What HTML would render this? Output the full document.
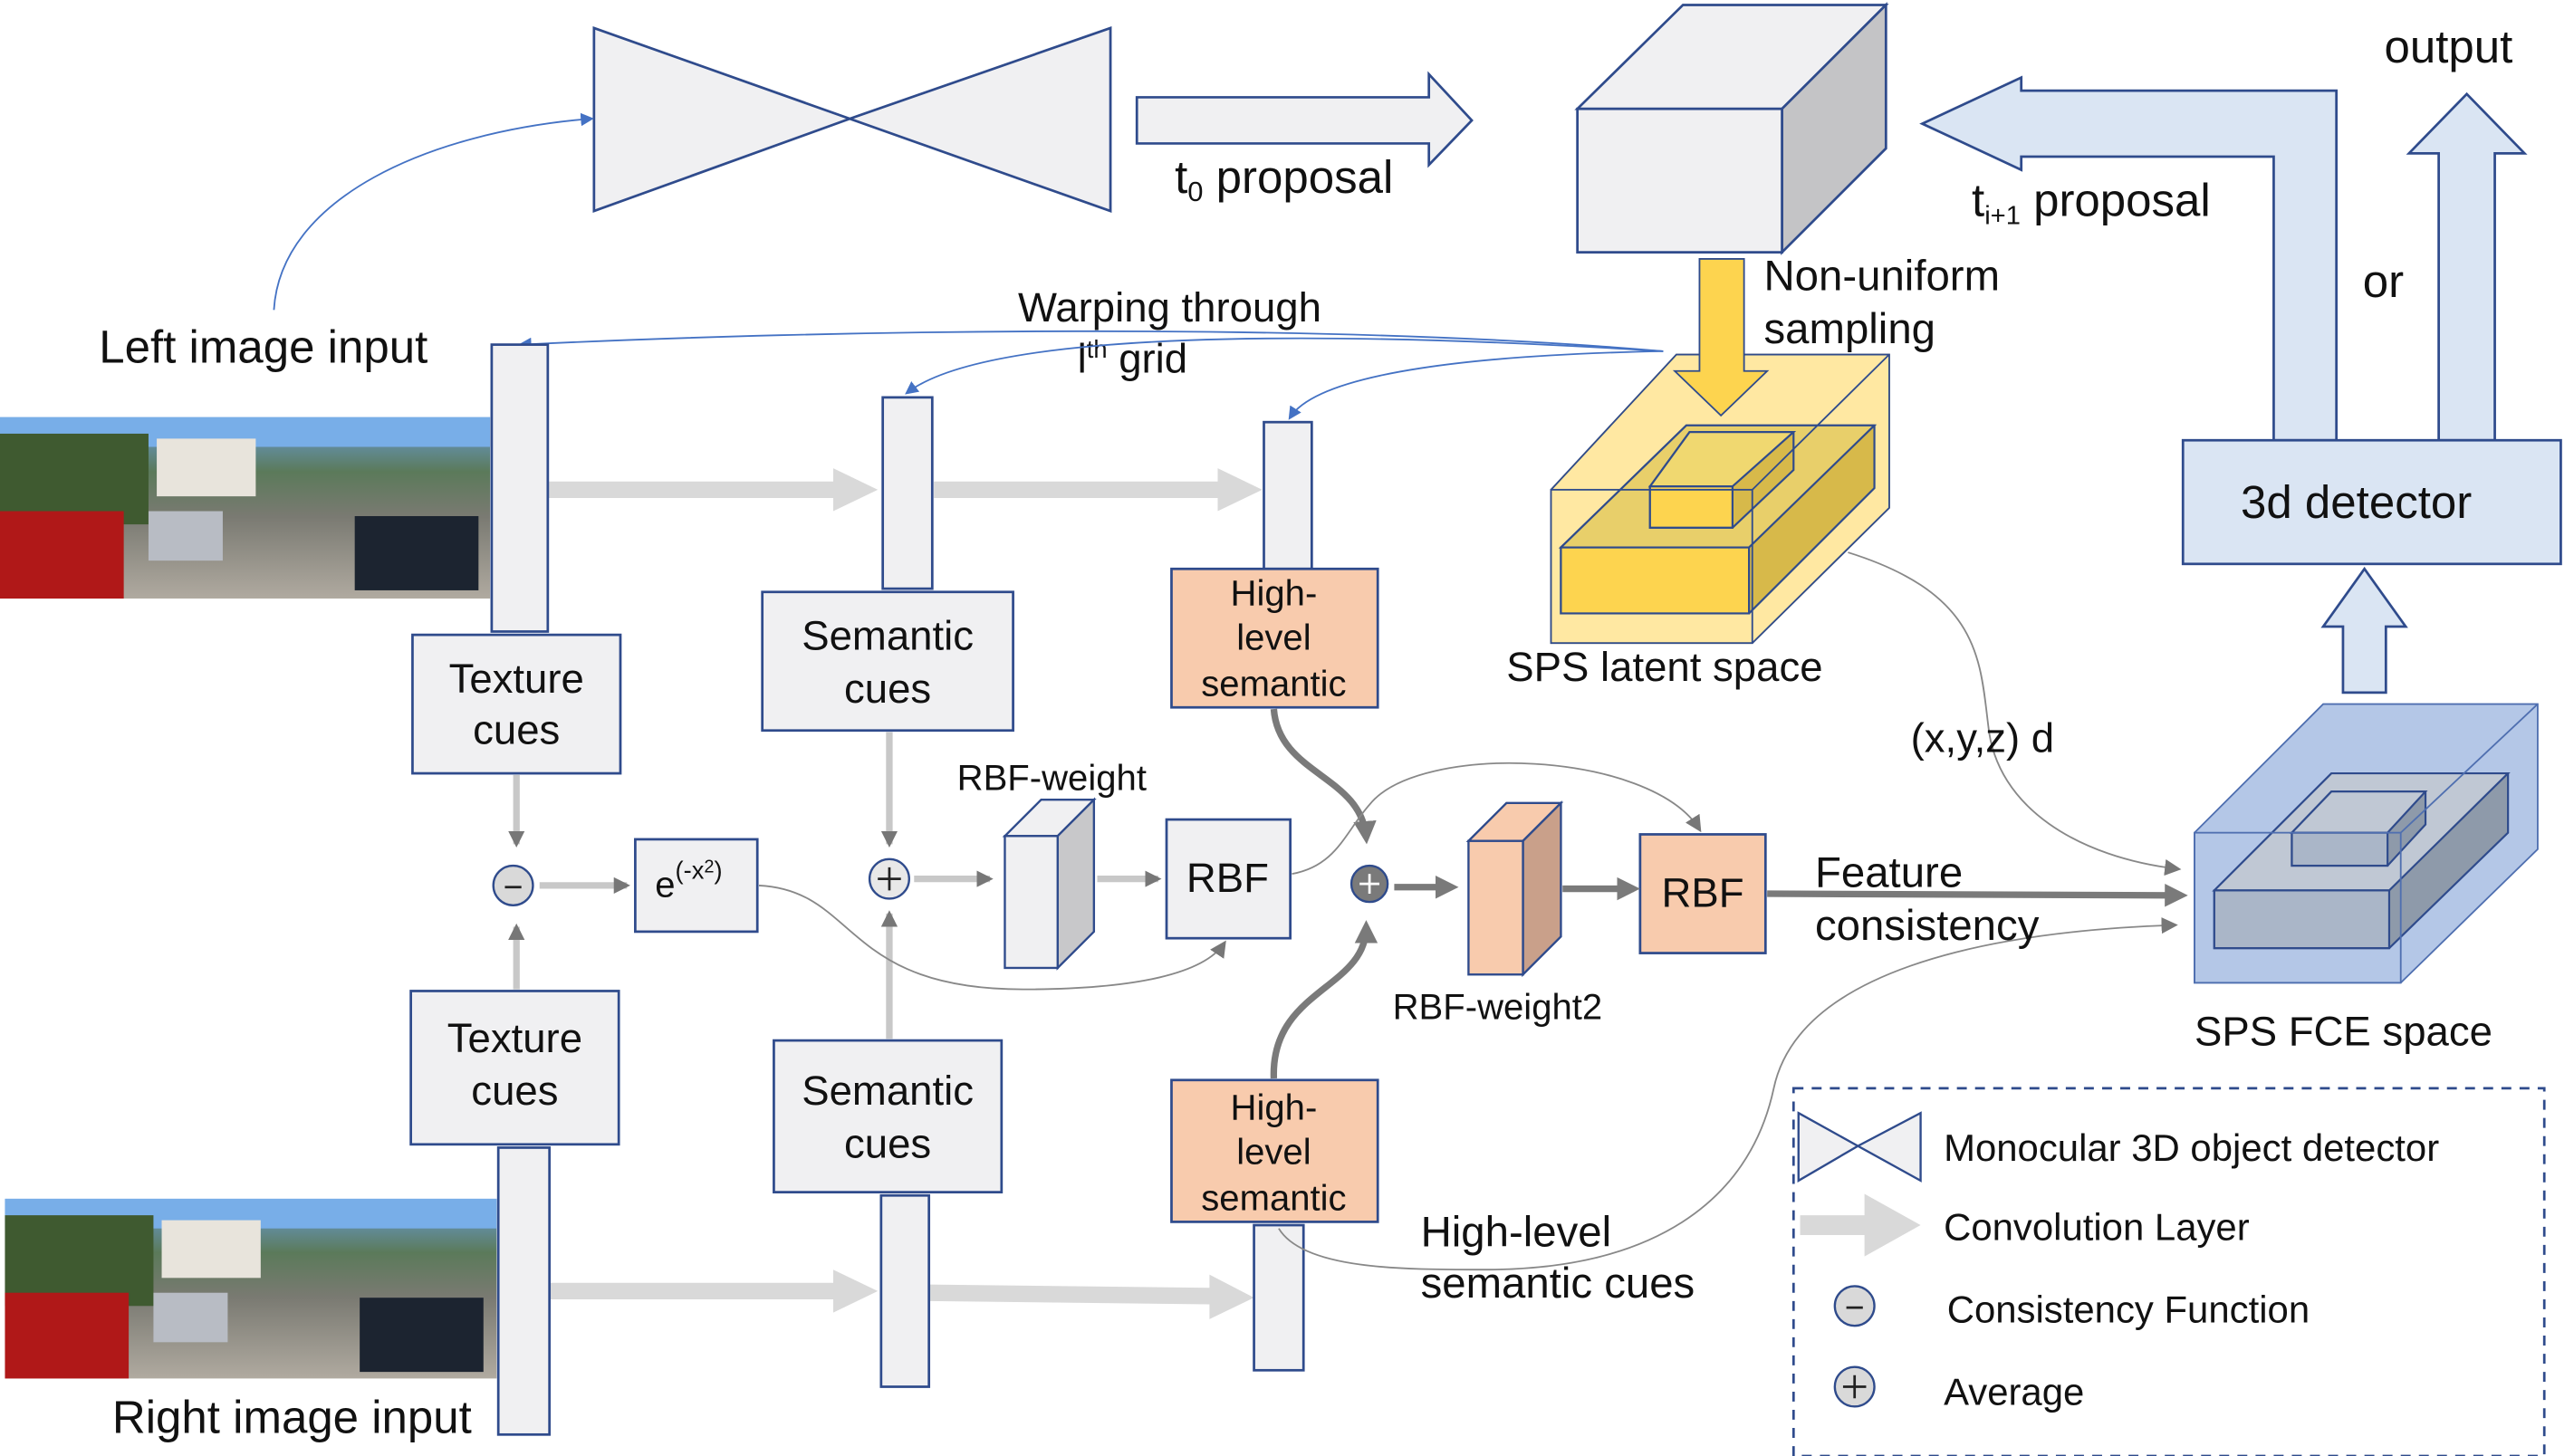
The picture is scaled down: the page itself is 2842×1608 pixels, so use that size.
<!DOCTYPE html>
<html><head><meta charset="utf-8"><style>
html,body{margin:0;padding:0;background:#fff;}
svg{display:block;}
text{font-family:"Liberation Sans","DejaVu Sans",sans-serif;fill:#111;}
</style></head><body>
<svg width="2842" height="1608" viewBox="0 0 1560 883" preserveAspectRatio="none" xmlns="http://www.w3.org/2000/svg">
<defs>
<marker id="ag" markerWidth="10" markerHeight="10" refX="8" refY="5" orient="auto" markerUnits="userSpaceOnUse"><path d="M0,0 L10,5 L0,10 Z" fill="#777"/></marker>
<marker id="ab" markerWidth="8" markerHeight="8" refX="6" refY="4" orient="auto" markerUnits="userSpaceOnUse"><path d="M0,0 L8,4 L0,8 Z" fill="#4472c4"/></marker>
<marker id="ad" markerWidth="14" markerHeight="14" refX="10" refY="7" orient="auto" markerUnits="userSpaceOnUse"><path d="M0,0 L14,7 L0,14 Z" fill="#7a7a7a"/></marker>
<linearGradient id="ph" x1="0" y1="0" x2="0" y2="1">
<stop offset="0" stop-color="#6aa0e0"/><stop offset="0.3" stop-color="#5b7a5a"/><stop offset="0.55" stop-color="#7a7a72"/><stop offset="1" stop-color="#b0aaa0"/></linearGradient>
</defs>

<!-- photos -->
<g>
<rect x="0" y="253" width="297" height="110" fill="url(#ph)"/>
<rect x="0" y="253" width="297" height="18" fill="#78aee8"/>
<rect x="0" y="263" width="90" height="55" fill="#3f5a30"/>
<rect x="95" y="266" width="60" height="35" fill="#e8e4dc"/>
<rect x="0" y="310" width="75" height="53" fill="#b01818"/>
<rect x="90" y="310" width="45" height="30" fill="#b8bcc4"/>
<rect x="215" y="313" width="75" height="45" fill="#1c2430"/>
<rect x="3" y="727" width="298" height="109" fill="url(#ph)"/>
<rect x="3" y="727" width="298" height="18" fill="#78aee8"/>
<rect x="3" y="737" width="90" height="55" fill="#3f5a30"/>
<rect x="98" y="740" width="60" height="35" fill="#e8e4dc"/>
<rect x="3" y="784" width="75" height="52" fill="#b01818"/>
<rect x="93" y="784" width="45" height="30" fill="#b8bcc4"/>
<rect x="218" y="787" width="75" height="45" fill="#1c2430"/>
</g>

<!-- bowtie -->
<polygon points="360,17 515,72 360,128" fill="#f0f0f2" stroke="#2f4b8c" stroke-width="1.5"/>
<polygon points="515,72 673,17 673,128" fill="#f0f0f2" stroke="#2f4b8c" stroke-width="1.5"/>
<polygon points="689,59 866,59 866,45 892,73 866,100 866,87 689,87" fill="#f0f0f2" stroke="#2f4b8c" stroke-width="1.5"/>
<text x="712" y="117" font-size="28">t<tspan font-size="17" dy="5">0</tspan><tspan dy="-5"> proposal</tspan></text>

<!-- cube -->
<polygon points="956,66 1020,3 1143,3 1080,66" fill="#f0f0f2" stroke="#2f4b8c" stroke-width="1.5"/>
<polygon points="1080,66 1143,3 1143,90 1080,153" fill="#c4c4c6" stroke="#2f4b8c" stroke-width="1.5"/>
<rect x="956" y="66" width="124" height="87" fill="#f0f0f2" stroke="#2f4b8c" stroke-width="1.5"/>
<text x="1069" y="176" font-size="26">Non-uniform</text>
<text x="1069" y="208" font-size="26">sampling</text>

<!-- yellow latent -->
<polygon points="940,297 1016,215 1145,215 1145,308 1062,390 940,390" fill="#ffe699" opacity="0.9" stroke="#c9b35a" stroke-width="1"/>
<polygon points="946,332 1022,258 1136,258 1136,296 1060,372 946,372" fill="#d7b94a" stroke="#2f4b8c" stroke-width="1.2"/>
<polygon points="946,332 1022,258 1136,258 1060,332" fill="#e8cf6a" stroke="#2f4b8c" stroke-width="1.2"/>
<rect x="946" y="332" width="114" height="40" fill="#fdd44f" stroke="#2f4b8c" stroke-width="1.2"/>
<polygon points="1000,295 1024,262 1087,262 1087,285 1050,320 1000,320" fill="#d7b94a" stroke="#2f4b8c" stroke-width="1.2"/>
<polygon points="1000,295 1024,262 1087,262 1050,295" fill="#f0d870" stroke="#2f4b8c" stroke-width="1.2"/>
<rect x="1000" y="295" width="50" height="25" fill="#fdd44f" stroke="#2f4b8c" stroke-width="1.2"/>
<polyline points="940,297 1016,215 1145,215 1145,308 1062,390" fill="none" stroke="#2f4b8c" stroke-width="1"/>
<rect x="940" y="297" width="122" height="93" fill="none" stroke="#2f4b8c" stroke-width="1"/>
<line x1="1062" y1="297" x2="1145" y2="215" stroke="#2f4b8c" stroke-width="1"/>
<polygon points="1030,157 1057,157 1057,225 1071,225 1043,252 1015,225 1030,225" fill="#fdd44f" stroke="#2f4b8c" stroke-width="1"/>
<text x="913" y="413" font-size="25">SPS latent space</text>

<!-- big blue arrows -->
<polygon points="1378,267 1378,95 1225,95 1225,103 1165,75 1225,47 1225,55 1416,55 1416,267" fill="#dae5f3" stroke="#2f4b8c" stroke-width="1.5"/>
<polygon points="1478,267 1478,93 1460,93 1495,57 1530,93 1512,93 1512,267" fill="#dae5f3" stroke="#2f4b8c" stroke-width="1.5"/>
<text x="1445" y="38" font-size="28">output</text>
<text x="1432" y="180" font-size="28">or</text>
<text x="1195" y="131" font-size="28">t<tspan font-size="16" dy="5">i+1</tspan><tspan dy="-5"> proposal</tspan></text>
<rect x="1323" y="267" width="229" height="75" fill="#dae5f3" stroke="#2f4b8c" stroke-width="1.5"/>
<text x="1358" y="314" font-size="28">3d detector</text>
<polygon points="1420,420 1420,380 1408,380 1433,345 1458,380 1446,380 1446,420" fill="#dae5f3" stroke="#2f4b8c" stroke-width="1.5"/>

<!-- FCE box -->
<polygon points="1330,505 1408,427 1538,427 1538,515 1455,596 1330,596" fill="#b4c7e7" stroke="#4f6fb0" stroke-width="1"/>
<polygon points="1342,540 1413,469 1520,469 1520,505 1448,575 1342,575" fill="#8e9aaa" stroke="#2f4b8c" stroke-width="1.2"/>
<polygon points="1342,540 1413,469 1520,469 1448,540" fill="#c0c8d4" stroke="#2f4b8c" stroke-width="1.2"/>
<rect x="1342" y="540" width="106" height="35" fill="#aab6c8" stroke="#2f4b8c" stroke-width="1.2"/>
<polygon points="1389,505 1413,480 1470,480 1470,500 1447,525 1389,525" fill="#8e9aaa" stroke="#2f4b8c" stroke-width="1.2"/>
<polygon points="1389,505 1413,480 1470,480 1447,505" fill="#c0c8d4" stroke="#2f4b8c" stroke-width="1.2"/>
<rect x="1389" y="505" width="58" height="20" fill="#aab6c8" stroke="#2f4b8c" stroke-width="1.2"/>
<rect x="1330" y="505" width="125" height="91" fill="none" stroke="#4f6fb0" stroke-width="1"/>
<line x1="1455" y1="505" x2="1538" y2="427" stroke="#4f6fb0" stroke-width="1"/>
<text x="1330" y="634" font-size="25">SPS FCE space</text>

<!-- legend -->
<rect x="1087" y="660" width="455" height="223" fill="none" stroke="#2f4b8c" stroke-width="1.5" stroke-dasharray="6,5"/>
<polygon points="1090,675 1126,695 1090,716" fill="#f0f0f2" stroke="#2f4b8c" stroke-width="1.3"/>
<polygon points="1126,695 1164,675 1164,716" fill="#f0f0f2" stroke="#2f4b8c" stroke-width="1.3"/>
<text x="1178" y="704" font-size="23">Monocular 3D object detector</text>
<polygon points="1091,737 1130,737 1130,724 1164,743 1130,762 1130,749 1091,749" fill="#d9d9d9"/>
<text x="1178" y="752" font-size="23">Convolution Layer</text>
<circle cx="1124" cy="792" r="12" fill="#d9d9d9" stroke="#2f4b8c" stroke-width="1.3"/>
<line x1="1119" y1="793" x2="1129" y2="793" stroke="#222" stroke-width="1.5"/>
<text x="1180" y="802" font-size="23">Consistency Function</text>
<circle cx="1124" cy="841" r="12" fill="#d9d9d9" stroke="#2f4b8c" stroke-width="1.3"/>
<line x1="1117" y1="841" x2="1131" y2="841" stroke="#222" stroke-width="1.5"/><line x1="1124" y1="834" x2="1124" y2="848" stroke="#222" stroke-width="1.5"/>
<text x="1178" y="852" font-size="23">Average</text>

<!-- texts -->
<text x="60" y="220" font-size="28" fill="#222">Left image input</text>
<text x="68" y="869" font-size="28" fill="#222">Right image input</text>
<text x="617" y="195" font-size="25">Warping through</text>
<text x="653" y="226" font-size="25">l<tspan font-size="15" dy="-9">th</tspan><tspan dy="9">  grid</tspan></text>

<!-- blue curves -->
<path d="M166,188 C170,120 260,80 358,72" fill="none" stroke="#4472c4" stroke-width="1" marker-end="url(#ab)"/>
<path d="M1008,213 C800,195 500,200 316,209" fill="none" stroke="#4472c4" stroke-width="1" marker-end="url(#ab)"/>
<path d="M1008,213 C800,200 600,200 550,238" fill="none" stroke="#4472c4" stroke-width="1" marker-end="url(#ab)"/>
<path d="M1008,213 C900,215 800,225 782,253" fill="none" stroke="#4472c4" stroke-width="1" marker-end="url(#ab)"/>

<!-- conv arrows -->
<g fill="#d9d9d9">
<polygon points="332,292 505,292 505,284 532,297 505,310 505,302 332,302"/>
<polygon points="566,292 738,292 738,284 765,297 738,310 738,302 566,302"/>
<polygon points="333,778 505,778 505,770 532,783 505,796 505,788 333,788"/>
<polygon points="563,779 733,781 733,773 760,787 733,800 733,791 563,789"/>
</g>

<!-- bars & boxes -->
<g stroke="#2f4b8c" stroke-width="1.5" fill="#f0f0f2">
<rect x="298" y="209" width="34" height="174"/>
<rect x="250" y="385" width="126" height="84"/>
<rect x="249" y="601" width="126" height="93"/>
<rect x="302" y="696" width="31" height="174"/>
<rect x="535" y="241" width="30" height="116"/>
<rect x="462" y="359" width="152" height="84"/>
<rect x="469" y="631" width="138" height="92"/>
<rect x="534" y="725" width="29" height="116"/>
<rect x="766" y="256" width="29" height="89"/>
<rect x="760" y="743" width="30" height="88"/>
<rect x="385" y="509" width="74" height="56"/>
<rect x="707" y="497" width="75" height="72"/>
<rect x="710" y="345" width="125" height="84" fill="#f8cbad"/>
<rect x="710" y="655" width="125" height="86" fill="#f8cbad"/>
<rect x="994" y="506" width="76" height="72" fill="#f8cbad"/>
</g>
<g font-size="25" text-anchor="middle">
<text x="313" y="420">Texture</text><text x="313" y="451">cues</text>
<text x="312" y="638">Texture</text><text x="312" y="670">cues</text>
<text x="538" y="394">Semantic</text><text x="538" y="426">cues</text>
<text x="538" y="670">Semantic</text><text x="538" y="702">cues</text>
<text x="744" y="541">RBF</text>
<text x="1032" y="550">RBF</text>
</g>
<g font-size="22" text-anchor="middle">
<text x="772" y="367">High-</text><text x="772" y="394">level</text><text x="772" y="422">semantic</text>
<text x="772" y="679">High-</text><text x="772" y="706">level</text><text x="772" y="734">semantic</text>
</g>
<text x="397" y="544" font-size="22">e<tspan font-size="15" dy="-11">(-x</tspan><tspan font-size="11" dy="-4">2</tspan><tspan font-size="15" dy="4">)</tspan></text>
<text x="580" y="479" font-size="22">RBF-weight</text>
<text x="844" y="618" font-size="22">RBF-weight2</text>

<!-- cubes -->
<polygon points="609,507 631,485 663,485 641,507" fill="#f0f0f2" stroke="#2f4b8c" stroke-width="1.3"/>
<polygon points="641,507 663,485 663,565 641,587" fill="#c8c8ca" stroke="#2f4b8c" stroke-width="1.3"/>
<rect x="609" y="507" width="32" height="80" fill="#f0f0f2" stroke="#2f4b8c" stroke-width="1.3"/>
<polygon points="890,510 913,487 946,487 923,510" fill="#f8cbad" stroke="#2f4b8c" stroke-width="1.3"/>
<polygon points="923,510 946,487 946,568 923,591" fill="#c9a08a" stroke="#2f4b8c" stroke-width="1.3"/>
<rect x="890" y="510" width="33" height="81" fill="#f8cbad" stroke="#2f4b8c" stroke-width="1.3"/>

<!-- short gray arrows -->
<g stroke="#c8c8c8" stroke-width="4" fill="none">
<line x1="313" y1="470" x2="313" y2="512" marker-end="url(#ag)"/>
<line x1="313" y1="600" x2="313" y2="562" marker-end="url(#ag)"/>
<line x1="327" y1="537" x2="380" y2="537" marker-end="url(#ag)"/>
<line x1="539" y1="444" x2="539" y2="512" marker-end="url(#ag)"/>
<line x1="539" y1="630" x2="539" y2="554" marker-end="url(#ag)"/>
<line x1="554" y1="533" x2="600" y2="533" marker-end="url(#ag)"/>
<line x1="665" y1="533" x2="702" y2="533" marker-end="url(#ag)"/>
</g>
<g stroke="#7a7a7a" stroke-width="4" fill="none">
<path d="M772,430 C775,470 825,470 828,508" marker-end="url(#ad)"/>
<path d="M772,654 C770,600 828,600 828,562" marker-end="url(#ad)"/>
<line x1="845" y1="538" x2="880" y2="538" marker-end="url(#ad)"/>
<line x1="947" y1="539" x2="990" y2="539" marker-end="url(#ad)"/>
<line x1="1071" y1="542" x2="1322" y2="543" marker-end="url(#ad)"/>
</g>
<circle cx="311" cy="537" r="12" fill="#d9d9d9" stroke="#2f4b8c" stroke-width="1.3"/>
<line x1="306" y1="538" x2="316" y2="538" stroke="#222" stroke-width="1.5"/>
<circle cx="539" cy="533" r="12" fill="#e8e8e8" stroke="#2f4b8c" stroke-width="1.3"/>
<line x1="532" y1="533" x2="546" y2="533" stroke="#222" stroke-width="1.5"/><line x1="539" y1="526" x2="539" y2="540" stroke="#222" stroke-width="1.5"/>
<circle cx="830" cy="536" r="11" fill="#7a7a7a" stroke="#2f4b8c" stroke-width="1.3"/>
<line x1="824" y1="536" x2="836" y2="536" stroke="#fff" stroke-width="1.5"/><line x1="830" y1="530" x2="830" y2="542" stroke="#fff" stroke-width="1.5"/>

<!-- thin gray curves -->
<g stroke="#888" stroke-width="1" fill="none">
<path d="M460,537 C520,540 510,600 620,600 C690,600 730,590 742,572" marker-end="url(#ag)"/>
<path d="M783,530 C810,525 815,505 830,488 C860,450 1000,455 1030,503" marker-end="url(#ag)"/>
<path d="M1120,335 C1200,360 1200,400 1205,440 C1210,490 1260,520 1320,527" marker-end="url(#ag)"/>
<path d="M775,745 C790,770 850,770 900,770 C1000,770 1060,730 1075,660 C1090,590 1200,565 1318,561" marker-end="url(#ag)"/>
</g>
<text x="1158" y="456" font-size="25">(x,y,z) d</text>
<text x="1100" y="538" font-size="26">Feature</text>
<text x="1100" y="570" font-size="26">consistency</text>
<text x="861" y="756" font-size="26">High-level</text>
<text x="861" y="787" font-size="26">semantic cues</text>
</svg>
</body></html>
